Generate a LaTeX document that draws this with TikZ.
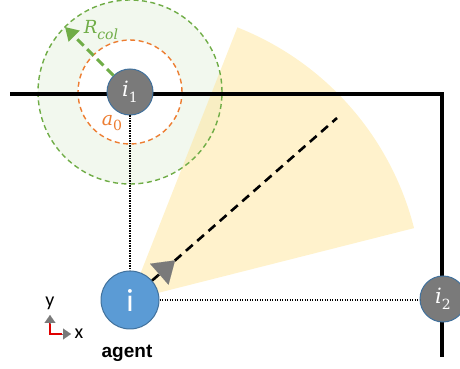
\documentclass[tikz,border=0pt]{standalone}
\usepackage{fontspec}
\setsansfont{Liberation Sans}
\newfontfamily\calib{Carlito}
\newfontfamily\labfont{DejaVu Serif}
\usetikzlibrary{arrows.meta,calc}
\definecolor{nodeblue}{HTML}{5B9BD5}
\definecolor{nodeborder}{HTML}{41719C}
\definecolor{nodegray}{HTML}{7A7A7A}
\definecolor{offgreen}{HTML}{70AD47}
\definecolor{offorange}{HTML}{ED7D31}
\definecolor{wedgeyellow}{HTML}{FFE699}
\definecolor{axred}{HTML}{E00000}
\newcommand{\mylab}[2]{\textit{#1}\raisebox{-0.3em}{\fontsize{14}{16}\selectfont #2}}
\tikzset{
  agentnode/.style={circle, fill=nodeblue, draw=nodeborder, line width=1pt, minimum size=58pt, inner sep=0pt, text=white, font=\calib\fontsize{32}{34}\selectfont},
  obsnode/.style={circle, fill=nodegray, draw=nodeborder, line width=1pt, minimum size=46pt, inner sep=0pt, text=white, font=\labfont\fontsize{21}{23}\selectfont},
  wall/.style={line width=3.6pt, black, line join=miter},
  dotline/.style={line width=1.6pt, black, dash pattern=on 1.2pt off 1.3pt},
  headingline/.style={line width=2.6pt, black, dash pattern=on 9pt off 6pt},
  rcolarrow/.style={line width=3pt, offgreen, dash pattern=on 9pt off 5pt, -{Triangle[length=13pt,width=15pt]}},
  ringcircle/.style={line width=1.4pt, dash pattern=on 5pt off 3.5pt},
  grayhead/.style={nodegray, line width=0.1pt, -{Triangle[length=21pt,width=28pt]}},
  axhead/.style={nodegray, line width=0.1pt, -{Triangle[length=8pt,width=11pt]}},
}
\begin{document}
\begin{tikzpicture}[x=1pt,y=1pt]
\useasboundingbox (0,0) rectangle (460,369);
\clip (0,0) rectangle (460,369);
% coordinates
\coordinate (i1c) at (130,277);
\coordinate (agc) at (130,69);
\coordinate (far) at (337,251);
\coordinate (wl) at (10,275);
\coordinate (wc) at (442,275);
\coordinate (wb) at (442,12);
\coordinate (rtip) at (65,342);
\coordinate (axo) at (50,35);
\coordinate (axy) at (50,46);
\coordinate (axyt) at (50,54);
\coordinate (axx) at (62,35);
\coordinate (axxt) at (71,35);
% green ring
\fill[offgreen!9] (i1c) circle (92);
\fill[white] (i1c) circle (52);
% field of view wedge
\fill[wedgeyellow, opacity=0.5] (agc) -- ++(14.2:293) arc[start angle=14.2, end angle=68.5, radius=293] -- cycle;
% rings
\draw[ringcircle, offgreen] (i1c) circle (92);
\draw[ringcircle, offorange] (i1c) circle (52);
% walls
\draw[wall] (wl) -- (wc) -- (wb);
% nodes
\node[obsnode] (i1) at (i1c) {\mylab{i}{1}};
\node[obsnode] (i2) at (443,70) {\mylab{i}{2}};
\node[agentnode] (ag) at (agc) {i};
% dotted projections
\draw[dotline] (i1) -- (ag);
\draw[dotline] (ag.east) -- (ag.east -| i2.west);
% heading
\draw[headingline] (ag) -- (far);
\draw[grayhead] ($(agc)!36pt!(far)$) -- ($(agc)!60pt!(far)$);
% R_col
\draw[rcolarrow] (i1.135) -- (rtip);
\node[text=offgreen, font=\labfont\fontsize{18}{20}\selectfont] (rlab) at (101,339) {\mylab{R}{\itshape col}};
\node[text=offorange, font=\labfont\fontsize{19}{21}\selectfont] (alab) at (112,246) {\mylab{a}{0}};
% axes icon
\draw[axred, line width=2pt] (axy) -- (axo) -- (axx);
\draw[axhead] (axy) -- (axyt);
\draw[axhead] (axx) -- (axxt);
\node[font=\calib\fontsize{20}{22}\selectfont] (ylab) at (50,66) {y};
\node[font=\calib\fontsize{20}{22}\selectfont] (xlab) at (79,35) {x};
\node[font=\sffamily\bfseries\fontsize{19}{22}\selectfont] (agentlab) at (127,16) {agent};
\end{tikzpicture}
\end{document}
